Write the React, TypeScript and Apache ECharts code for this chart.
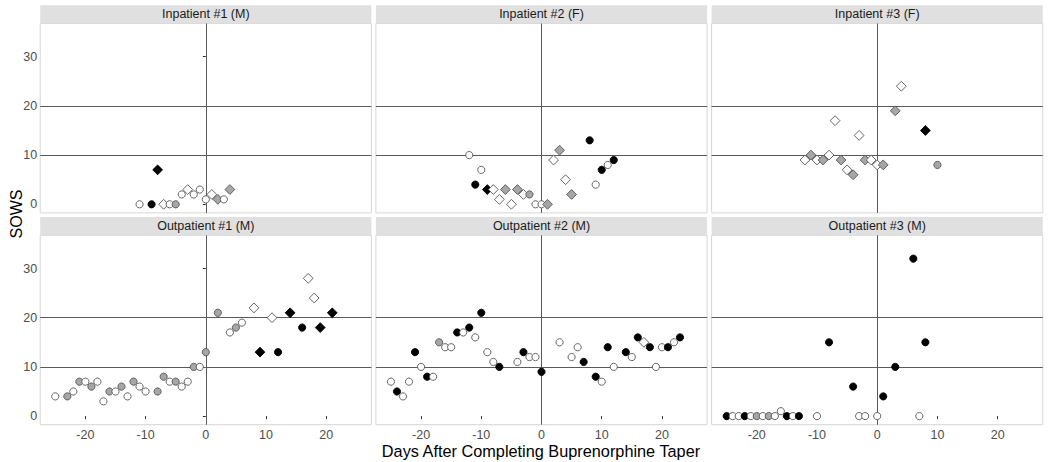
import { useEffect, useRef } from "react";
import * as echarts from "echarts";

// ---------- data ----------
const panelTitles = [
  "Inpatient #1 (M)",
  "Inpatient #2 (F)",
  "Inpatient #3 (F)",
  "Outpatient #1 (M)",
  "Outpatient #2 (M)",
  "Outpatient #3 (M)",
];

// mark codes: first letter fill (w white, g gray, b black), second letter shape (c circle, d diamond)
const inp1Days = [-11, -9, -8, -7, -6, -5, -4, -3, -2, -1, 0, 1, 2, 3, 4];
const inp1Sows = [0, 0, 7, 0, 0, 0, 2, 3, 2, 3, 1, 2, 1, 1, 3];
const inp1Mark = ["wc", "bc", "bd", "wd", "wc", "gc", "wc", "wd", "wc", "wc", "wc", "wd", "gd", "wc", "gd"];

const inp2Days = [-12, -11, -10, -9, -8, -7, -6, -5, -4, -3, -2, -1, 0, 1, 2, 3, 4, 5, 8, 9, 10, 11, 12];
const inp2Sows = [10, 4, 7, 3, 3, 1, 3, 0, 3, 2, 2, 0, 0, 0, 9, 11, 5, 2, 13, 4, 7, 8, 9];
const inp2Mark = ["wc", "bc", "wc", "bd", "wd", "wd", "gd", "wd", "gd", "wd", "gc", "wc", "wc", "gd", "wd", "gd", "wd", "gd", "bc", "wc", "bc", "wc", "bc"];

const inp3Days = [-12, -11, -10, -9, -8, -7, -6, -5, -4, -3, -2, -1, 0, 1, 3, 4, 8, 10];
const inp3Sows = [9, 10, 9, 9, 10, 17, 9, 7, 6, 14, 9, 9, 8, 8, 19, 24, 15, 8];
const inp3Mark = ["wd", "gd", "wd", "gd", "wd", "wd", "gd", "wd", "gd", "wd", "gd", "wd", "wd", "gd", "gd", "wd", "bd", "gc"];

const out1Days = [-25, -23, -22, -21, -20, -19, -18, -17, -16, -15, -14, -13, -12, -11, -10, -8, -7, -6, -5, -4, -3, -2, -1, 0, 2, 4, 5, 6, 8, 9, 11, 12, 14, 16, 17, 18, 19, 21];
const out1Sows = [4, 4, 5, 7, 7, 6, 7, 3, 5, 5, 6, 4, 7, 6, 5, 5, 8, 7, 7, 6, 7, 10, 10, 13, 21, 17, 18, 19, 22, 13, 20, 13, 21, 18, 28, 24, 18, 21];
const out1Mark = ["wc", "gc", "wc", "gc", "wc", "gc", "wc", "wc", "gc", "wc", "gc", "wc", "gc", "wc", "wc", "gc", "gc", "wc", "gc", "wc", "wc", "gc", "wc", "gc", "gc", "wc", "gc", "wc", "wd", "bd", "wd", "bc", "bd", "bc", "wd", "wd", "bd", "bd"];

const out2Days = [-25, -24, -23, -22, -21, -20, -19, -18, -17, -16, -15, -14, -13, -12, -11, -10, -9, -8, -7, -4, -3, -2, -1, 0, 3, 5, 6, 7, 9, 10, 11, 12, 14, 15, 16, 17, 18, 19, 20, 21, 22, 23];
const out2Sows = [7, 5, 4, 7, 13, 10, 8, 8, 15, 14, 14, 17, 17, 18, 16, 21, 13, 11, 10, 11, 13, 12, 12, 9, 15, 12, 14, 11, 8, 7, 14, 10, 13, 12, 16, 15, 14, 10, 14, 14, 15, 16];
const out2Mark = ["wc", "bc", "wc", "wc", "bc", "wc", "bc", "wc", "gc", "wc", "wc", "bc", "wc", "bc", "wc", "bc", "wc", "wc", "bc", "wc", "bc", "wc", "wc", "bc", "wc", "wc", "wc", "bc", "bc", "wc", "bc", "wc", "bc", "wc", "bc", "wd", "bc", "wc", "wc", "bc", "wc", "bc"];

const out3Days = [-25, -24, -23, -22, -21, -20, -19, -18, -17, -16, -15, -14, -13, -10, -8, -4, -3, -2, 0, 1, 3, 6, 7, 8];
const out3Sows = [0, 0, 0, 0, 0, 0, 0, 0, 0, 1, 0, 0, 0, 0, 15, 6, 0, 0, 0, 4, 10, 32, 0, 15];
const out3Mark = ["bc", "wc", "wc", "bc", "wc", "gc", "wc", "gc", "wc", "wc", "bc", "wc", "bc", "wc", "bc", "bc", "wc", "wc", "wc", "bc", "bc", "bc", "wc", "bc"];

const xTicks = [-20, -10, 0, 10, 20];
const yTicks = [0, 10, 20, 30];
const refYLines = [10, 20];
const refXLines = [0];

// ---------- layout / style ----------
const X_MIN = -27.5;
const X_MAX = 27.5;
const Y_MIN = -1.75;
const Y_MAX = 36.75;
const colLefts = [40.2, 375.9, 711.6];
const panelW = 331.2;
const rowTops = [23.5, 235.3];
const panelH = 189.4;
const stripH = 18.2;
const FONT = "'Liberation Sans', Arial, Helvetica, sans-serif";

const fills: Record<string, string> = { w: "#ffffff", g: "#a6a6a6", b: "#000000" };
const strokes: Record<string, string> = { w: "#555555", g: "#555555", b: "#000000" };

const panels = [
  { days: inp1Days, sows: inp1Sows, mark: inp1Mark },
  { days: inp2Days, sows: inp2Sows, mark: inp2Mark },
  { days: inp3Days, sows: inp3Sows, mark: inp3Mark },
  { days: out1Days, sows: out1Sows, mark: out1Mark },
  { days: out2Days, sows: out2Sows, mark: out2Mark },
  { days: out3Days, sows: out3Sows, mark: out3Mark },
];

function buildOption() {
  const grids: any[] = [];
  const xAxes: any[] = [];
  const yAxes: any[] = [];
  const series: any[] = [];
  const graphics: any[] = [];

  panels.forEach((p, i) => {
    const row = Math.floor(i / 3);
    const col = i % 3;
    const left = colLefts[col];
    const top = rowTops[row];
    grids.push({
      left,
      top,
      width: panelW,
      height: panelH,
      show: true,
      backgroundColor: "#ffffff",
      borderColor: "#d6d6d6",
      borderWidth: 1,
    });
    const showX = row === 1;
    const showY = col === 0;
    xAxes.push({
      type: "value",
      gridIndex: i,
      min: X_MIN,
      max: X_MAX,
      splitLine: { show: false },
      axisLine: { show: false },
      axisTick: {
        show: showX,
        length: 3,
        lineStyle: { color: "#333333", width: 1 },
        customValues: xTicks,
      },
      axisLabel: {
        show: showX,
        customValues: xTicks,
        color: "#4d4d4d",
        fontSize: 12.5,
        fontFamily: FONT,
        margin: 4,
      },
    });
    yAxes.push({
      type: "value",
      gridIndex: i,
      min: Y_MIN,
      max: Y_MAX,
      splitLine: { show: false },
      axisLine: { show: false },
      axisTick: {
        show: showY,
        length: 3,
        lineStyle: { color: "#333333", width: 1 },
        customValues: yTicks,
      },
      axisLabel: {
        show: showY,
        customValues: yTicks,
        color: "#4d4d4d",
        fontSize: 12.5,
        fontFamily: FONT,
        margin: 3,
      },
    });

    // reference lines
    series.push({
      type: "scatter",
      xAxisIndex: i,
      yAxisIndex: i,
      z: 1,
      silent: true,
      symbolSize: 0,
      data: p.days.map((d, k) => [d, p.sows[k]]),
      itemStyle: { opacity: 0 },
      markLine: {
        silent: true,
        symbol: ["none", "none"],
        z: 1,
        label: { show: false },
        lineStyle: { color: "#5a5a5a", width: 1, type: "solid" },
        emphasis: { disabled: true },
        data: [
          ...refYLines.map((v) => ({ yAxis: v })),
          ...refXLines.map((v) => ({ xAxis: v })),
        ],
      },
    });

    series.push({
      type: "scatter",
      xAxisIndex: i,
      yAxisIndex: i,
      z: 3,
      data: p.days.map((d, k) => {
        const m = p.mark[k];
        const f = m[0];
        const isDiamond = m[1] === "d";
        return {
          value: [d, p.sows[k]],
          symbol: isDiamond ? "diamond" : "circle",
          symbolSize: isDiamond ? 9.8 : 7.2,
          itemStyle: {
            color: fills[f],
            borderColor: strokes[f],
            borderWidth: 0.9,
            opacity: 1,
          },
        };
      }),
    });

    // facet strip
    graphics.push({
      type: "rect",
      shape: { x: left, y: top - stripH, width: panelW, height: stripH },
      style: { fill: "#e0e0e0" },
      silent: true,
    });
    graphics.push({
      type: "text",
      x: left + panelW / 2,
      y: top - stripH / 2,
      style: {
        text: panelTitles[i],
        fill: "#1a1a1a",
        fontSize: 12.5,
        fontFamily: FONT,
        align: "center",
        verticalAlign: "middle",
      },
      silent: true,
    });
  });

  graphics.push({
    type: "text",
    x: 16,
    y: 214,
    rotation: Math.PI / 2,
    style: {
      text: "SOWS",
      fill: "#000000",
      fontSize: 16,
      fontFamily: FONT,
      align: "center",
      verticalAlign: "middle",
    },
    silent: true,
  });
  graphics.push({
    type: "text",
    x: 541,
    y: 450.5,
    style: {
      text: "Days After Completing Buprenorphine Taper",
      fill: "#000000",
      fontSize: 16.3,
      fontFamily: FONT,
      align: "center",
      verticalAlign: "middle",
    },
    silent: true,
  });

  return {
    animation: false,
    backgroundColor: "#ffffff",
    grid: grids,
    xAxis: xAxes,
    yAxis: yAxes,
    series,
    graphic: graphics,
  };
}

export default function App() {
  const ref = useRef<HTMLDivElement>(null);
  useEffect(() => {
    if (!ref.current) return;
    const chart = echarts.init(ref.current, undefined, { renderer: "svg" });
    chart.setOption(buildOption() as any);
    return () => chart.dispose();
  }, []);
  return (
    <div
      ref={ref}
      style={{ position: "fixed", left: 0, top: 0, width: 1050, height: 462, background: "#fff" }}
    />
  );
}
